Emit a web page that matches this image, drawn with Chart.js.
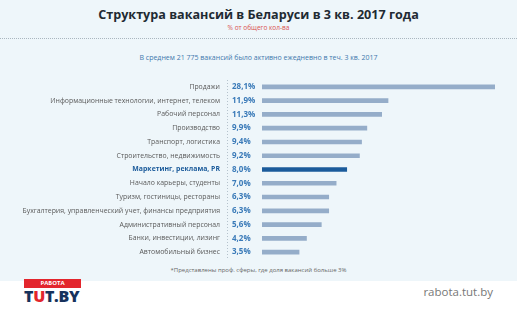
<!DOCTYPE html>
<html>
<head>
<meta charset="utf-8">
<script src="https://cdn.jsdelivr.net/npm/chart.js@4"></script>
<style>
  html, body { margin: 0; padding: 0; }
  body { width: 517px; height: 325px; position: relative; background: #fff; font-family: "Open Sans", sans-serif; overflow: hidden; }
  .panel { position: absolute; left: 0; top: 0; width: 517px; height: 281px; background: #eef6fa; }
  .title { position: absolute; top: 6px; width: 517px; text-align: center; font-size: 12.6px; font-weight: 700; color: #1f2b33; }
  .sub { position: absolute; top: 23px; width: 517px; text-align: center; font-size: 6.5px; color: #d9534f; }
  .rule { position: absolute; top: 38px; left: 0; width: 517px; border-top: 1px dotted #aab6bf; }
  .note { position: absolute; top: 53px; width: 517px; text-align: center; font-size: 7px; color: #3f78ad; }
  .foot { position: absolute; top: 266px; width: 517px; text-align: center; font-size: 6px; color: #666; }
  #vacancies { position: absolute; left: 0; top: 75px; }
  .logo { position: absolute; left: 24px; top: 279px; width: 57px; }
  .logo .top { background: #e3262d; color: #fff; font-size: 6px; font-weight: 700; text-align: center; height: 9px; line-height: 9px; }
  .logo .bot { font-size: 16px; font-weight: 800; color: #16325c; line-height: 16px; letter-spacing: -0.3px; }
  .logo .bot span { color: #e3262d; }
  .site { position: absolute; right: 24px; top: 284px; font-size: 11.5px; color: #777; }
</style>
</head>
<body>
<div class="panel"></div>
<div class="title">Структура вакансий в Беларуси в 3 кв. 2017 года</div>
<div class="sub">% от общего кол-ва</div>
<div class="rule"></div>
<div class="note">В среднем 21 775 вакансий было активно ежедневно в теч. 3 кв. 2017</div>
<canvas id="vacancies" width="517" height="190"></canvas>
<div class="foot">*Представлены проф. сферы, где доля вакансий больше 3%</div>
<div class="logo"><div class="top">РАБОТА</div><div class="bot">T<span>U</span>T.BY</div></div>
<div class="site">rabota.tut.by</div>

<script>
const categories = [
  'Продажи',
  'Информационные технологии, интернет, телеком',
  'Рабочий персонал',
  'Производство',
  'Транспорт, логистика',
  'Строительство, недвижимость',
  'Маркетинг, реклама, PR',
  'Начало карьеры, студенты',
  'Туризм, гостиницы, рестораны',
  'Бухгалтерия, управленческий учет, финансы предприятия',
  'Административный персонал',
  'Банки, инвестиции, лизинг',
  'Автомобильный бизнес'
];

const shares = [28.1, 11.9, 11.3, 9.9, 9.4, 9.2, 8.0, 7.0, 6.3, 6.3, 5.6, 4.2, 3.5];

// row that gets the dark accent
const highlight = 6;

const barColors = shares.map((v, i) => i === highlight ? '#1b5b9b' : '#95adc9');

// value column + dotted divider between labels and bars
const valueColumn = {
  id: 'valueColumn',
  afterDraw(chart) {
    const ctx = chart.ctx;
    const y = chart.scales.y;
    const area = chart.chartArea;
    ctx.save();
    ctx.strokeStyle = '#b5c2cc';
    ctx.lineWidth = 1;
    ctx.setLineDash([1, 2]);
    ctx.beginPath();
    ctx.moveTo(227.5, area.top);
    ctx.lineTo(227.5, area.bottom);
    ctx.stroke();
    ctx.setLineDash([]);
    ctx.font = '700 8px "Open Sans"';
    ctx.fillStyle = '#3a7ab8';
    ctx.textAlign = 'left';
    ctx.textBaseline = 'middle';
    shares.forEach((v, i) => {
      ctx.fillText(v.toFixed(1).replace('.', ',') + '%', 232, y.getPixelForValue(i));
    });
    ctx.restore();
  }
};

new Chart(document.getElementById('vacancies'), {
  type: 'bar',
  data: {
    labels: categories,
    datasets: [{
      data: shares,
      backgroundColor: barColors,
      barThickness: 4,
      borderWidth: 0
    }]
  },
  options: {
    indexAxis: 'y',
    responsive: false,
    animation: false,
    layout: { padding: { top: 5, bottom: 6, right: 22 } },
    plugins: { legend: { display: false }, tooltip: { enabled: false } },
    scales: {
      // the top row runs past the axis end and is cut at the edge
      x: { display: false, min: 0, max: 22 },
      y: {
        // tick marks are hidden; their length only spaces the labels off the bars
        grid: { display: false, drawTicks: true, tickLength: 42 },
        border: { display: false },
        afterFit(scale) { scale.width = 262; },
        ticks: {
          padding: 0,
          autoSkip: false,
          color: (c) => c.index === highlight ? '#1b5b9b' : '#5a5a5a',
          font: (c) => c.index === highlight
            ? { family: 'Open Sans', size: 6.9, weight: '700' }
            : { family: 'Open Sans', size: 6.9 }
        }
      }
    }
  },
  plugins: [valueColumn]
});
</script>
</body>
</html>
